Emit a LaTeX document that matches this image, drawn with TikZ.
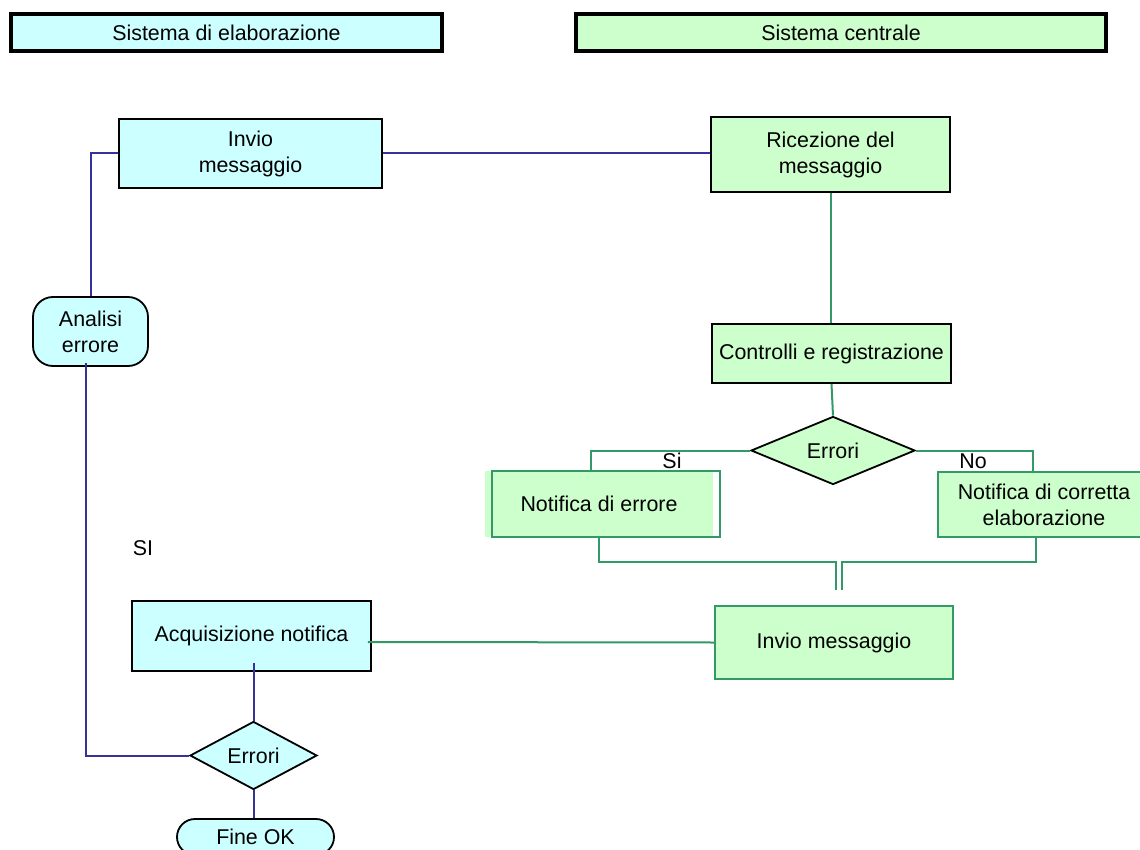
\documentclass[tikz,border=0pt]{standalone}
\usepackage{fontspec}
\setmainfont{Liberation Sans}
\usetikzlibrary{shapes.geometric}
\definecolor{cyanfill}{HTML}{CCFFFF}
\definecolor{greenfill}{HTML}{CCFFCC}
\definecolor{blueline}{HTML}{333399}
\definecolor{greenline}{HTML}{339966}
\tikzset{
  header/.style={draw=black, line width=3.5pt, inner sep=0pt, minimum height=37pt},
  cbox/.style={draw=black, line width=1.8pt, fill=cyanfill, inner sep=0pt, align=center},
  gbox/.style={draw=black, line width=1.8pt, fill=greenfill, inner sep=0pt, align=center},
  gboxg/.style={draw=greenline, line width=2.2pt, fill=greenfill, inner sep=0pt, align=center},
  dia/.style={diamond, draw=black, line width=1.8pt, inner sep=0pt},
  bl/.style={draw=blueline, line width=2pt},
  gl/.style={draw=greenline, line width=2pt},
  lbl/.style={inner sep=0pt}
}
\begin{document}
\begin{tikzpicture}[x=1pt,y=-1pt,font=\fontsize{21.4}{26}\selectfont]
\useasboundingbox[fill=white] (0,0) rectangle (1140,850);
% headers
\node[header, fill=cyanfill, minimum width=431pt] (h1) at (226.5,32.5) {Sistema di elaborazione};
\node[header, fill=greenfill, minimum width=530pt] (h2) at (841,32.5) {Sistema centrale};
% left column
\node[cbox, minimum width=263pt, minimum height=69pt] (inv1) at (250.5,153.5) {Invio\\messaggio};
\node[cbox, rounded corners=20pt, minimum width=115pt, minimum height=69pt] (ana) at (90.5,331.5) {Analisi\\errore};
\node[cbox, minimum width=239pt, minimum height=70pt] (acq) at (251.5,636) {Acquisizione notifica};
\node[dia, fill=cyanfill, minimum width=127pt, minimum height=51pt] (err2) at (253.5,755.5) {Errori};
\node[cbox, rounded corners=18pt, minimum width=157pt, minimum height=36pt] (fine) at (255.5,837) {Fine OK};
% right column
\node[gbox, minimum width=239pt, minimum height=75pt] (ric) at (830.5,154.5) {Ricezione del\\messaggio};
\node[gbox, minimum width=239pt, minimum height=59pt] (ctrl) at (831.5,353.5) {Controlli e registrazione};
\node[dia, fill=greenfill, minimum width=164pt, minimum height=67pt] (err1) at (833,450.5) {Errori};
\node[fill=greenfill, inner sep=0pt, minimum width=228pt, minimum height=66pt] (nerr) at (599,504) {Notifica di errore};
\draw[draw=greenline, line width=2.2pt] ([xshift=7pt]nerr.south west) rectangle ([xshift=7pt]nerr.north east);
\node[gboxg, minimum width=212pt, minimum height=65pt] (ncor) at (1044,504.5) {Notifica di corretta\\elaborazione};
\node[gboxg, minimum width=238pt, minimum height=73pt] (inv2) at (834,642.5) {Invio messaggio};
% labels
\node[lbl] (si) at (672,461) {Si};
\node[lbl] (no) at (973,461) {No};
\node[lbl] (SI) at (143,548) {SI};
% blue connectors
\draw[bl] (inv1.east) -- (inv1.east -| ric.west);
\draw[bl] (inv1.west) -| (ana.north);
\draw[bl] ([xshift=-4.5pt,yshift=4pt]ana.south) |- (err2.west);
\draw[bl] (err2.north) -- ([yshift=9pt]acq.south -| err2.north);
\draw[bl] (err2.south) -- (err2.south |- fine.north);
% green connectors
\draw[gl] (ric.south) -- (ric.south |- ctrl.north);
\draw[gl] (ctrl.south) -- (err1.north);
\draw[gl] (err1.west) -| ([xshift=-8pt]nerr.north);
\draw[gl] (err1.east) -| ([xshift=-11pt]ncor.north);
\coordinate (jlk) at (836,562);
\coordinate (jl) at (836,590);
\coordinate (jrk) at (842,562);
\coordinate (jr) at (842,590);
\draw[gl] (nerr.south) |- (jlk) -- (jl);
\draw[gl] ([xshift=-8pt]ncor.south) |- (jrk) -- (jr);
\draw[gl] ([xshift=-4pt,yshift=-6pt]acq.east) -- (inv2.west);
\end{tikzpicture}
\end{document}
